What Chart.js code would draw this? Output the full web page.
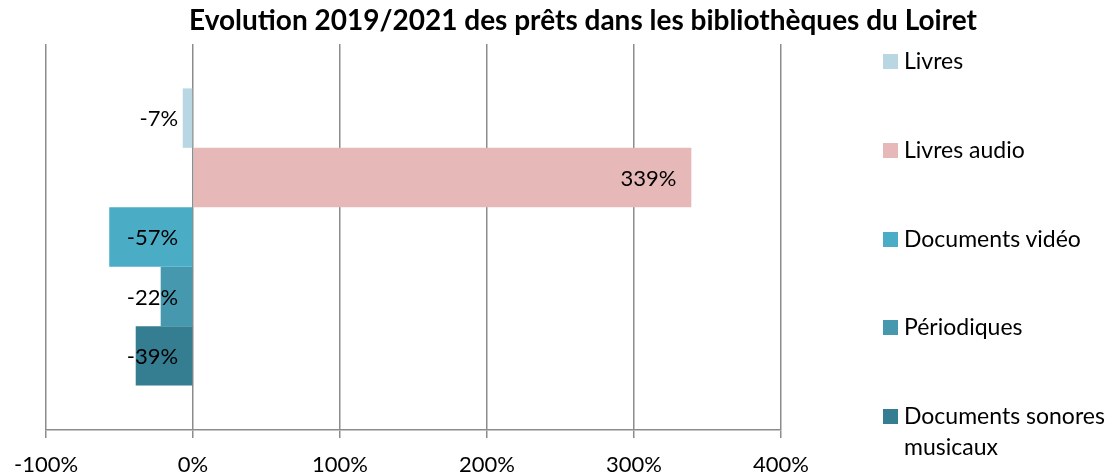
<!DOCTYPE html>
<html>
<head>
<meta charset="utf-8">
<script src="https://cdn.jsdelivr.net/npm/chart.js@4.4.1/dist/chart.umd.min.js"></script>
<style>
  body { margin: 0; background: #fff; font-family: Lato, "Open Sans", sans-serif; }
  #wrap { position: relative; width: 1120px; height: 475px; }
  #title { position: absolute; top: 2px; left: 0; width: 1166px; text-align: center; font-weight: bold; font-size: 28px; color: #000; }
  #legend { position: absolute; left: 883px; top: 0; width: 237px; }
  .item { position: absolute; left: 0; display: flex; align-items: flex-start; font-size: 23px; line-height: 31px; color: #000; white-space: normal; }
  .box { width: 15px; height: 15px; margin-top: 9px; margin-right: 6px; flex: none; }
</style>
</head>
<body>
<div id="wrap">
  <canvas id="myCanvas" width="1120" height="475"></canvas>
  <div id="title">Evolution 2019/2021 des prêts dans les bibliothèques du Loiret</div>
  <div id="legend"></div>
</div>
<script>
const categories = ["Livres", "Livres audio", "Documents vidéo", "Périodiques", "Documents sonores musicaux"];
const values = [-7, 339, -57, -22, -39];
const colors = ["#B9D7E3", "#E6B8B7", "#4BACC6", "#4598AE", "#357D91"];
const tickValues = [-100, 0, 100, 200, 300, 400];

// legend built from the arrays
const legendTops = [45, 134, 223, 311, 400];
const legend = document.getElementById("legend");
categories.forEach((name, i) => {
  const item = document.createElement("div");
  item.className = "item";
  item.style.top = legendTops[i] + "px";
  item.innerHTML = '<span class="box" style="background:' + colors[i] + '"></span><span>' + name + "</span>";
  legend.appendChild(item);
});

const labelPlugin = {
  id: "valueLabels",
  afterDatasetsDraw(chart) {
    const ctx = chart.ctx;
    const zeroX = chart.scales.x.getPixelForValue(0);
    ctx.save();
    ctx.font = "22px Lato";
    ctx.fillStyle = "#000";
    ctx.textAlign = "right";
    ctx.textBaseline = "middle";
    chart.data.datasets.forEach((ds, i) => {
      const bar = chart.getDatasetMeta(i).data[0];
      const v = ds.data[0];
      const x = v < 0 ? zeroX - 15 : bar.x - 15;
      ctx.fillText(v + "%", x, bar.y + 1);
    });
    ctx.restore();
  }
};

let ctx = document.getElementById("myCanvas").getContext("2d");
new Chart(ctx, {
  type: "bar",
  data: {
    labels: [""],
    datasets: categories.map((name, i) => ({
      label: name,
      data: [values[i]],
      backgroundColor: colors[i],
      borderWidth: 0,
      categoryPercentage: 0.77,
      barPercentage: 1
    }))
  },
  options: {
    indexAxis: "y",
    responsive: false,
    animation: false,
    layout: { padding: { left: 44, right: 339, top: 44, bottom: 0 } },
    plugins: {
      legend: { display: false },
      title: { display: false },
      tooltip: { enabled: false }
    },
    scales: {
      x: {
        min: -100,
        max: 400,
        afterBuildTicks: (s) => { s.ticks = tickValues.map(v => ({ value: v })); },
        afterFit: (s) => { s.height = 45; },
        grid: { color: "#8c8c8c", lineWidth: 1.5, tickLength: 8 },
        border: { color: "#8c8c8c", width: 1.5 },
        ticks: {
          padding: 14,
          color: "#000",
          font: { family: "Lato", size: 22 },
          callback: (v) => v + "%"
        }
      },
      y: { display: false }
    }
  },
  plugins: [labelPlugin]
});
</script>
</body>
</html>
